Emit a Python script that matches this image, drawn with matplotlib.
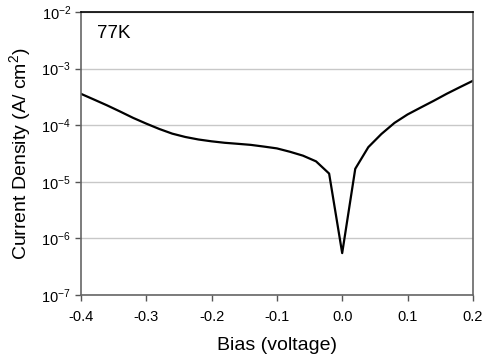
import matplotlib
matplotlib.use("Agg")
import matplotlib.pyplot as plt
import numpy as np

plt.rcParams["font.family"] = ["Liberation Sans", "DejaVu Sans"]
plt.rcParams["mathtext.fontset"] = "custom"
plt.rcParams["mathtext.rm"] = "Liberation Sans"
plt.rcParams["mathtext.it"] = "Liberation Sans"

# Bias (V) and current density (A/cm^2)
bias = [-0.40, -0.38, -0.36, -0.34, -0.32, -0.30, -0.28, -0.26, -0.24, -0.22, -0.20, -0.18,
        -0.16, -0.14, -0.12, -0.10, -0.08, -0.06, -0.04, -0.02, 0.00, 0.02,
        0.04, 0.06, 0.08, 0.10, 0.12, 0.14, 0.16, 0.18, 0.20]
current = [3.6e-4, 2.85e-4, 2.25e-4, 1.75e-4, 1.35e-4, 1.07e-4, 8.6e-5, 7.1e-5, 6.2e-5, 5.6e-5, 5.2e-5, 4.9e-5,
           4.7e-5, 4.5e-5, 4.2e-5, 3.9e-5, 3.4e-5, 2.9e-5, 2.3e-5, 1.4e-5, 5.5e-7, 1.7e-5,
           4.1e-5, 7.0e-5, 1.1e-4, 1.55e-4, 2.05e-4, 2.7e-4, 3.6e-4, 4.7e-4, 6.1e-4]

x_ticks = [-0.4, -0.3, -0.2, -0.1, 0.0, 0.1, 0.2]
y_ticks = [1e-7, 1e-6, 1e-5, 1e-4, 1e-3, 1e-2]

fig = plt.figure(figsize=(4.84, 3.55), dpi=100)
ax = fig.add_axes([0.167, 0.169, 0.81, 0.797])

ax.plot(bias, current, color="black", linewidth=1.6)
ax.set_yscale("log")
ax.set_xlim(-0.4, 0.2)
ax.set_ylim(1e-7, 1e-2)

ax.set_xticks(x_ticks)
ax.set_xticklabels([f"{t:.1f}" for t in x_ticks])
ax.set_yticks(y_ticks)
ax.set_yticklabels([f"10$^{{{int(np.log10(t))}}}$" for t in y_ticks])
ax.yaxis.set_minor_locator(matplotlib.ticker.NullLocator())
ax.tick_params(axis="both", labelsize=10.5, direction="out", length=4,
               color="#555555", width=1)
ax.tick_params(axis="y", pad=3)
ax.tick_params(axis="x", pad=7)

ax.grid(axis="y", color="#c8c8c8", linewidth=1)
ax.set_axisbelow(True)

for side in ["left", "right", "bottom"]:
    ax.spines[side].set_color("#666666")
    ax.spines[side].set_linewidth(1.2)
ax.spines["top"].set_color("black")
ax.spines["top"].set_linewidth(1.2)

ax.set_xlabel("Bias (voltage)", fontsize=14, labelpad=9)
ax.set_ylabel("Current Density (A/ cm$^2$)", fontsize=14, labelpad=6)
ax.text(0.04, 0.925, "77K", transform=ax.transAxes, fontsize=13.5, va="center")

fig.savefig("out.png", dpi=100)
